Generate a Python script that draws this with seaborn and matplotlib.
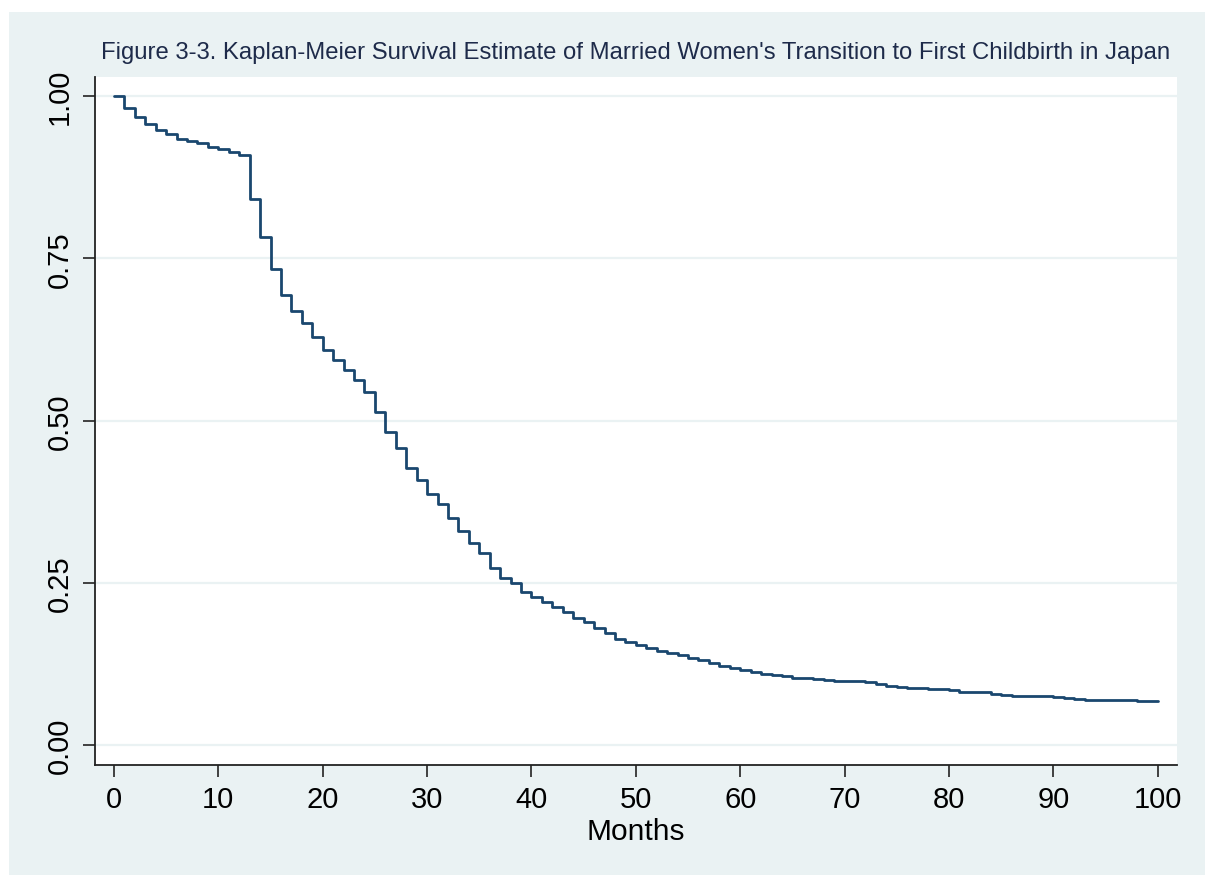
import numpy as np
import pandas as pd
import matplotlib
matplotlib.use("Agg")
import matplotlib.pyplot as plt
from matplotlib.patches import Rectangle
import seaborn as sns

# Kaplan-Meier survival estimate, value held from month m to m+1
months = list(range(0, 101))
survival = [
    1.000, 0.982, 0.967, 0.957, 0.947, 0.942, 0.934, 0.931, 0.927, 0.921,
    0.918, 0.913, 0.909, 0.841, 0.782, 0.733, 0.694, 0.668, 0.650, 0.629,
    0.609, 0.593, 0.578, 0.563, 0.544, 0.513, 0.483, 0.457, 0.427, 0.409,
    0.387, 0.371, 0.350, 0.329, 0.311, 0.296, 0.273, 0.258, 0.249, 0.236,
    0.228, 0.221, 0.213, 0.205, 0.196, 0.190, 0.181, 0.172, 0.163, 0.158,
    0.154, 0.150, 0.145, 0.142, 0.138, 0.134, 0.131, 0.126, 0.122, 0.118,
    0.116, 0.113, 0.110, 0.108, 0.106, 0.104, 0.103, 0.101, 0.100, 0.099,
    0.098, 0.098, 0.097, 0.094, 0.091, 0.089, 0.088, 0.088, 0.086, 0.086,
    0.084, 0.082, 0.082, 0.081, 0.078, 0.077, 0.076, 0.076, 0.075, 0.075,
    0.074, 0.073, 0.071, 0.070, 0.070, 0.069, 0.069, 0.069, 0.068, 0.068,
    0.068,
]
x_ticks = list(range(0, 101, 10))
y_ticks = [0.00, 0.25, 0.50, 0.75, 1.00]
title = "Figure 3-3. Kaplan-Meier Survival Estimate of Married Women's Transition to First Childbirth in Japan"

BG = "#EAF2F3"
NAVY = "#1A476F"

sns.set_theme(style="white")
plt.rcParams["font.family"] = ["Liberation Sans", "DejaVu Sans"]

df = pd.DataFrame({"Months": months, "Survival": survival})

fig = plt.figure(figsize=(12.05, 8.78), dpi=100)
fig.patch.set_facecolor("white")
# Stata-style outer panel, drawn behind the axes
fig.patches.append(Rectangle((9 / 1205, 2 / 878), 1 - 9 / 1205, (876 - 13) / 878,
                             transform=fig.transFigure, facecolor=BG,
                             edgecolor="none", zorder=-10))

ax = fig.add_axes([95 / 1205, 1 - 766 / 878, (1177 - 95) / 1205, (766 - 78) / 878])
ax.set_facecolor("white")

sns.lineplot(data=df, x="Months", y="Survival", drawstyle="steps-post",
             color=NAVY, linewidth=2.0, ax=ax, estimator=None)

ax.set_xlim(-1.82, 101.85)
ax.set_ylim(-0.0308, 1.0293)
ax.set_xticks(x_ticks)
ax.set_yticks(y_ticks)
ax.set_yticklabels([f"{v:.2f}" for v in y_ticks], rotation=90, va="center")
ax.tick_params(axis="both", direction="out", length=8.5, width=1.3,
               color="#333333", labelsize=21, labelcolor="black",
               left=True, bottom=True)
ax.tick_params(axis="x", pad=6)
ax.tick_params(axis="y", pad=7)

for y in y_ticks:
    ax.axhline(y, color=BG, linewidth=1.6, zorder=0.5)

for side in ["top", "right"]:
    ax.spines[side].set_visible(False)
for side in ["left", "bottom"]:
    ax.spines[side].set_color("#222222")
    ax.spines[side].set_linewidth(1.3)

ax.set_xlabel("Months", fontsize=21.5, color="black", labelpad=3)
ax.set_ylabel("")
ax.set_title(title, fontsize=17.2, color="#1E2B4A", pad=14)

fig.savefig("out.png", dpi=100, facecolor=fig.get_facecolor())
